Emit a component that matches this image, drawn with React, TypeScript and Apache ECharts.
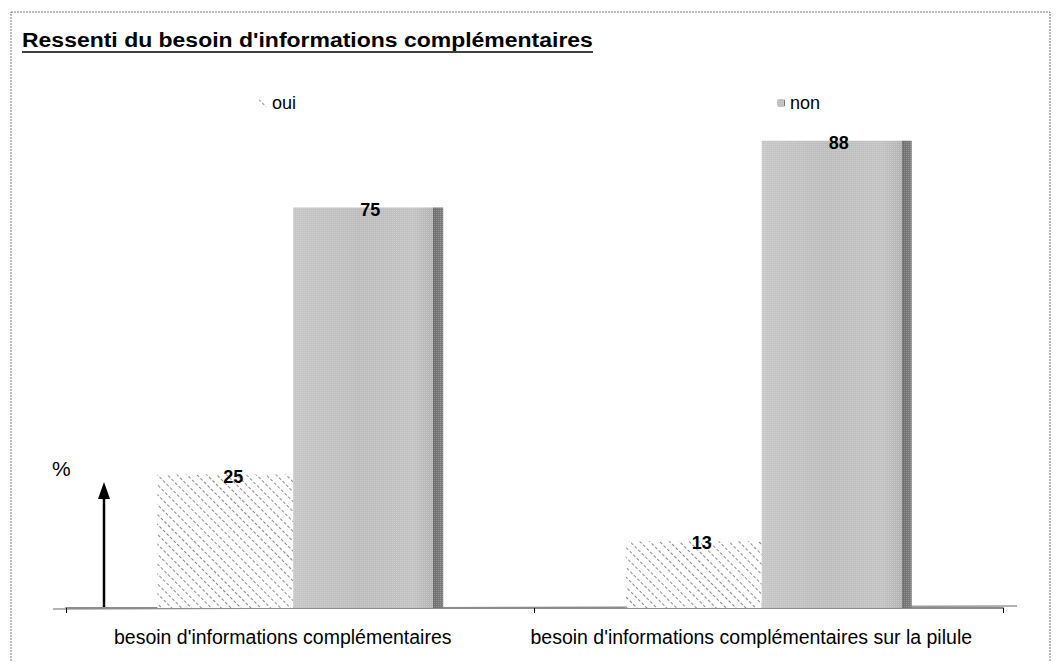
import React, { useEffect, useRef } from "react";
import * as echarts from "echarts";

const titleText = "Ressenti du besoin d'informations complémentaires";
const categories = [
  "besoin d'informations complémentaires",
  "besoin d'informations complémentaires sur la pilule",
];
const seriesNames = ["oui", "non"];
const ouiValues = [25, 12.5];
const nonValues = [75, 87.5];
const yMax = 100;
const axisUnit = "%";

const FONT = "'Liberation Sans', Arial, sans-serif";

export default function App() {
  const ref = useRef<HTMLDivElement>(null);

  useEffect(() => {
    document.body.style.margin = "0";
    if (!ref.current) return;
    const chart = echarts.init(ref.current, undefined, { renderer: "svg" });

    const titleFont = `bold 20px ${FONT}`;
    const targetTitleW = 571;
    let titleW = 495;
    const cv = document.createElement("canvas").getContext("2d");
    if (cv) {
      cv.font = titleFont;
      titleW = cv.measureText(titleText).width;
    }
    const titleScale = targetTitleW / titleW;

    const hatchDecal = {
      symbol: "rect",
      symbolSize: 1,
      dashArrayX: [[3, 2]],
      dashArrayY: [1, 6],
      rotation: Math.PI / 4,
      color: "#8a8a8a",
      backgroundColor: "#ffffff",
    };
    const stippleDecal = {
      symbol: "rect",
      symbolSize: 1,
      dashArrayX: [1, 1],
      dashArrayY: [1, 1],
      color: "rgba(255,255,255,0.22)",
    };

    const barLabel = {
      show: true,
      position: "top" as const,
      distance: -11,
      fontFamily: FONT,
      fontSize: 18,
      fontWeight: "bold" as const,
      color: "#000",
      formatter: (p: any) => String(Math.round(p.value)),
    };

    const legendText = { fontFamily: FONT, fontSize: 18, color: "#000" };

    chart.setOption({
      animation: false,
      backgroundColor: "#fff",
      textStyle: { fontFamily: FONT },
      legend: [
        {
          data: [seriesNames[0]],
          left: 254,
          top: 89,
          itemWidth: 8,
          itemHeight: 8,
          textStyle: legendText,
        },
        {
          data: [seriesNames[1]],
          left: 772,
          top: 89,
          itemWidth: 8,
          itemHeight: 8,
          textStyle: legendText,
        },
      ],
      grid: { left: 66, right: 56, top: 74, bottom: 54, containLabel: false },
      xAxis: {
        type: "category",
        data: categories,
        axisLine: { show: true, lineStyle: { color: "#8c8c8c", width: 2 } },
        axisTick: { show: true, length: 5, lineStyle: { color: "#000" } },
        axisLabel: {
          interval: 0,
          fontFamily: FONT,
          fontSize: 19.5,
          color: "#000",
          margin: 19,
          padding: [0, 35, 0, 0],
        },
      },
      yAxis: {
        type: "value",
        min: 0,
        max: yMax,
        show: false,
        splitLine: { show: false },
      },
      series: [
        {
          name: seriesNames[0],
          type: "bar",
          data: ouiValues,
          barWidth: 136,
          barGap: "0%",
          itemStyle: { color: "#ffffff", decal: hatchDecal },
          label: { ...barLabel, offset: [8, 0] },
        },
        {
          name: seriesNames[1],
          type: "bar",
          data: nonValues,
          barWidth: 150,
          barGap: "0%",
          itemStyle: {
            color: {
              type: "linear",
              x: 0,
              y: 0,
              x2: 1,
              y2: 0,
              colorStops: [
                { offset: 0, color: "#c6c6c6" },
                { offset: 0.45, color: "#bdbdbd" },
                { offset: 0.8, color: "#c3c3c3" },
                { offset: 0.932, color: "#b4b4b4" },
                { offset: 0.933, color: "#6f6f6f" },
                { offset: 1, color: "#7c7c7c" },
              ],
            },
            decal: stippleDecal,
          },
          label: { ...barLabel, offset: [2, 0] },
        },
      ],
      graphic: [
        {
          type: "rect",
          shape: { x: 11, y: 12, width: 1039, height: 700 },
          style: { fill: "none", stroke: "#777", lineWidth: 1, lineDash: [2, 1] },
          silent: true,
          z: 0,
        },
        {
          type: "text",
          x: 22,
          y: 30,
          scaleX: titleScale,
          style: { text: titleText, font: titleFont, fill: "#000" },
        },
        {
          type: "line",
          shape: { x1: 22, y1: 52, x2: 22 + targetTitleW, y2: 52 },
          style: { stroke: "#000", lineWidth: 1.5 },
        },
        {
          type: "line",
          shape: { x1: 53, y1: 609, x2: 1017, y2: 606 },
          style: { stroke: "#9a9a9a", lineWidth: 1.5 },
          z: -1,
        },
        {
          type: "line",
          shape: { x1: 104, y1: 608, x2: 104, y2: 496 },
          style: { stroke: "#000", lineWidth: 2.5 },
        },
        {
          type: "polygon",
          shape: { points: [[104, 482], [98, 499], [110, 499]] },
          style: { fill: "#000" },
        },
        {
          type: "text",
          x: 52,
          y: 458,
          style: { text: axisUnit, font: `21px ${FONT}`, fill: "#000" },
        },
      ],
    });

    return () => chart.dispose();
  }, []);

  return <div ref={ref} style={{ width: 1059, height: 662 }} />;
}
